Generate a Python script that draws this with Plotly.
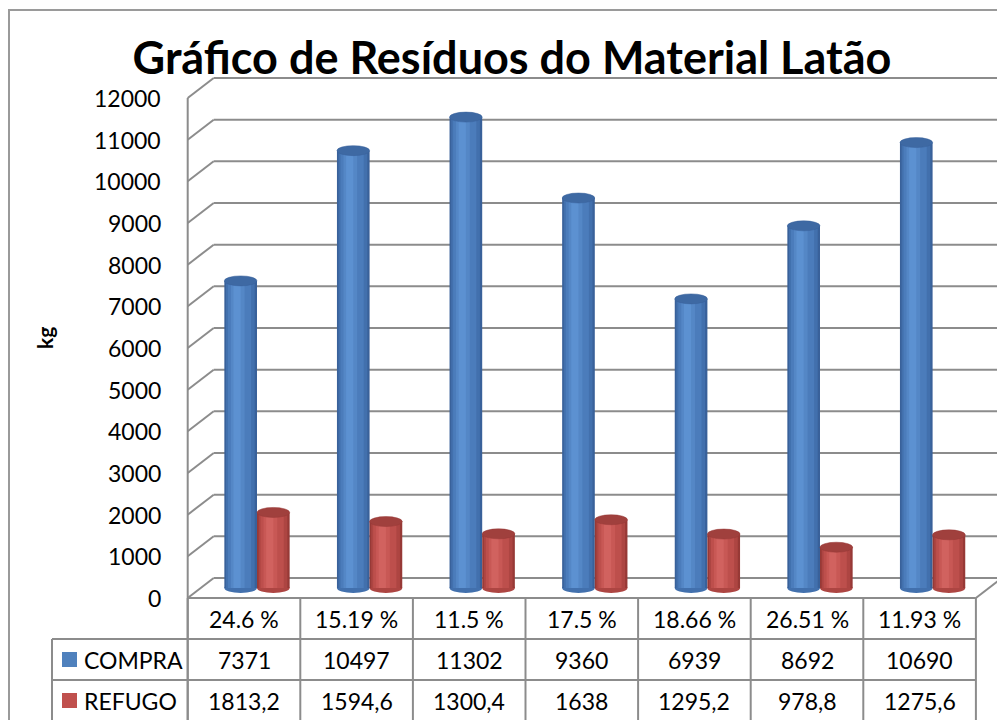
import plotly.graph_objects as go

# ---------------- data ----------------
categories = ["24.6 %", "15.19 %", "11.5 %", "17.5 %", "18.66 %", "26.51 %", "11.93 %"]
series_names = ["COMPRA", "REFUGO"]
compra = [7371, 10497, 11302, 9360, 6939, 8692, 10690]
refugo = [1813.2, 1594.6, 1300.4, 1638, 1295.2, 978.8, 1275.6]
y_ticks = list(range(0, 12001, 1000))
title_text = "Gráfico de Resíduos do Material Latão"
y_title = "kg"

# ---------------- layout geometry (pseudo-3D) ----------------
W, H = 1005, 720
PAGE_OFF = 8            # default page margin around the figure
CAT_PX = 112.6          # pixels per category
X0_PX = 257 - PAGE_OFF  # pixel of category 0 (mid-depth plane)
KG_PX = 500 / 12000     # pixels per kg
Y0_PX = 588 - PAGE_OFF  # pixel of zero (mid-depth plane, from top)
x_range = [(0 - X0_PX) / CAT_PX, (W - X0_PX) / CAT_PX]
y_range = [(Y0_PX - H) / KG_PX, Y0_PX / KG_PX]


def px_to_x(px):
    return (px - PAGE_OFF - X0_PX) / CAT_PX


DX = 13 / CAT_PX        # half depth in category units
DY = 10 / KG_PX         # half depth in kg units
RH = 41 / KG_PX         # table row height
n = len(categories)
x_left_front = -0.5 - DX
x_right_front = n - 0.5 - DX
x_left_back = -0.5 + DX
x_edge = x_range[1] + 0.1
x_leg = px_to_x(52)
y_bottom = y_range[0] - 200

FONT = "Lato, 'Open Sans', sans-serif"
GRID = "#8C8C8C"

BAR_W = 0.29
palettes = {
    "COMPRA": dict(layers=["#39619A", "#4270AD", "#4B7CBB", "#5487C6", "#5C91D1"],
                   top="#3E69A3", key="#4F81BD"),
    "REFUGO": dict(layers=["#973936", "#AD4542", "#BD4F4C", "#C85855", "#D1625F"],
                   top="#A0403D", key="#C0504D"),
}
layer_frac = [(0.0, 1.0), (0.05, 0.93), (0.11, 0.82), (0.2, 0.62), (0.28, 0.5)]

fig = go.Figure()
shapes = []
annotations = []

# ---- back wall + side wall gridlines ----
for v in y_ticks:
    shapes.append(dict(type="line", xref="x", yref="y", layer="below",
                       x0=x_left_back, x1=x_edge, y0=v + DY, y1=v + DY,
                       line=dict(color=GRID, width=2)))
    shapes.append(dict(type="line", xref="x", yref="y", layer="below",
                       x0=x_left_front, x1=x_left_back, y0=v - DY, y1=v + DY,
                       line=dict(color=GRID, width=2)))
# front left vertical edge (continues through table)
shapes.append(dict(type="line", xref="x", yref="y", layer="below",
                   x0=x_left_front, x1=x_left_front, y0=y_ticks[-1] - DY, y1=y_bottom,
                   line=dict(color=GRID, width=2)))
# floor front edge and right diagonal
shapes.append(dict(type="line", xref="x", yref="y", layer="below",
                   x0=x_left_front, x1=x_right_front, y0=-DY, y1=-DY,
                   line=dict(color=GRID, width=2)))
shapes.append(dict(type="line", xref="x", yref="y", layer="below",
                   x0=x_right_front, x1=x_right_front + 2 * DX, y0=-DY, y1=DY,
                   line=dict(color=GRID, width=2)))

# ---- cylinders ----
series_vals = {"COMPRA": compra, "REFUGO": refugo}
offsets = {"COMPRA": -BAR_W, "REFUGO": 0.0}
ELL = 5 / KG_PX
for name in series_names:
    vals = series_vals[name]
    pal = palettes[name]
    off = offsets[name]
    # bottom rounded ends
    for i, v in enumerate(vals):
        shapes.append(dict(type="circle", xref="x", yref="y", layer="below",
                           x0=i + off, x1=i + off + BAR_W, y0=-ELL, y1=ELL,
                           fillcolor=pal["layers"][1], line=dict(width=0)))
    for (f0, f1), col in zip(layer_frac, pal["layers"]):
        fig.add_trace(go.Bar(
            x=list(range(n)), y=vals, base=0,
            width=BAR_W * (f1 - f0), offset=off + BAR_W * f0,
            marker=dict(color=col, line=dict(width=0)),
            showlegend=False, hoverinfo="skip", name=name))
    for i, v in enumerate(vals):
        shapes.append(dict(type="circle", xref="x", yref="y", layer="above",
                           x0=i + off, x1=i + off + BAR_W, y0=v - ELL, y1=v + ELL,
                           fillcolor=pal["top"], line=dict(color=pal["layers"][0], width=0.5)))

# ---- y tick labels ----
for v in y_ticks:
    annotations.append(dict(x=px_to_x(163), y=v - DY, xref="x", yref="y",
                            text=str(v), showarrow=False, xanchor="right", yanchor="middle",
                            font=dict(family=FONT, size=23, color="#000000")))
annotations.append(dict(x=px_to_x(44), y=6000, xref="x", yref="y",
                        text=y_title, showarrow=False, textangle=-90,
                        font=dict(family=FONT, size=21, color="#000000", weight="bold")))

# ---- data table ----
row_top = -DY
rows_y = [row_top - RH * k for k in range(4)]
for k in range(n + 1):
    shapes.append(dict(type="line", xref="x", yref="y", layer="below",
                       x0=x_left_front + k, x1=x_left_front + k, y0=row_top, y1=y_bottom,
                       line=dict(color=GRID, width=2)))
for yy in rows_y[1:3]:
    shapes.append(dict(type="line", xref="x", yref="y", layer="below",
                       x0=x_leg, x1=x_right_front, y0=yy, y1=yy,
                       line=dict(color=GRID, width=2)))
shapes.append(dict(type="line", xref="x", yref="y", layer="below",
                   x0=x_leg, x1=x_leg, y0=rows_y[1], y1=y_bottom,
                   line=dict(color=GRID, width=2)))


def fmt(v):
    if float(v).is_integer():
        return str(int(v))
    return str(v).replace(".", ",")


for i, c in enumerate(categories):
    annotations.append(dict(x=i - DX, y=row_top - RH / 2, xref="x", yref="y", text=c,
                            showarrow=False, font=dict(family=FONT, size=23, color="#000000")))
for r, name in enumerate(series_names):
    yc = rows_y[r + 1] - RH / 2
    for i, v in enumerate(series_vals[name]):
        annotations.append(dict(x=i - DX, y=yc, xref="x", yref="y", text=fmt(v),
                                showarrow=False, font=dict(family=FONT, size=23, color="#000000")))
    annotations.append(dict(x=px_to_x(82), y=yc, xref="x", yref="y", text=name,
                            showarrow=False, xanchor="left",
                            font=dict(family=FONT, size=23, color="#000000")))
    fig.add_trace(go.Scatter(x=[px_to_x(69.5)], y=[yc], mode="markers",
                             marker=dict(symbol="square", size=15, color=palettes[name]["key"]),
                             showlegend=False, hoverinfo="skip"))

# ---- chart-area border ----
bx = 1 / W
by = 1 - 2 / H
shapes.append(dict(type="path", xref="paper", yref="paper", layer="above",
                   path="M %f,-0.1 L %f,%f L 1.1,%f" % (bx, bx, by, by),
                   line=dict(color="#9A9A9A", width=2)))

fig.update_layout(
    width=W, height=H, margin=dict(l=0, r=0, t=0, b=0),
    paper_bgcolor="white", plot_bgcolor="white",
    barmode="overlay", showlegend=False,
    xaxis=dict(range=x_range, visible=False, fixedrange=True),
    yaxis=dict(range=y_range, visible=False, fixedrange=True),
    shapes=shapes, annotations=annotations,
    title=dict(text=title_text, x=(512 - PAGE_OFF) / W, xanchor="center",
               y=1 - (58 - PAGE_OFF) / H, yanchor="middle",
               font=dict(family=FONT, size=45, color="#000000", weight="bold")),
)

fig.write_html("out.html")
